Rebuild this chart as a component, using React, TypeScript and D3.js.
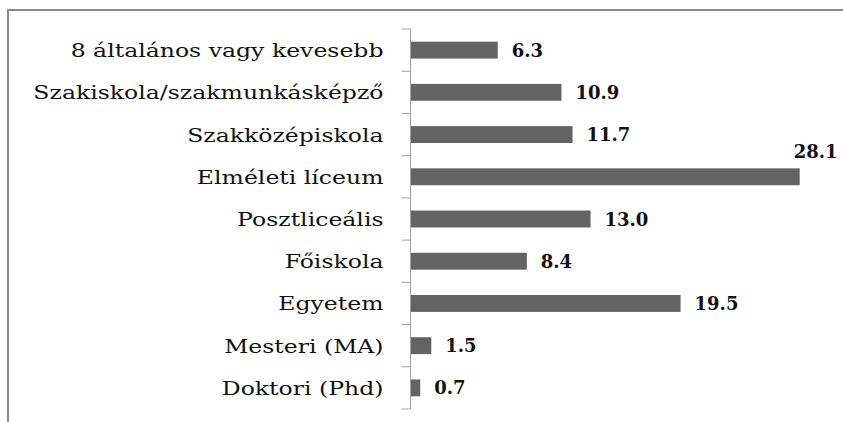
import React from 'react';
import * as d3 from 'd3';

const categories = [
  '8 általános vagy kevesebb',
  'Szakiskola/szakmunkásképző',
  'Szakközépiskola',
  'Elméleti líceum',
  'Posztliceális',
  'Főiskola',
  'Egyetem',
  'Mesteri (MA)',
  'Doktori (Phd)',
];
const values = [6.3, 10.9, 11.7, 28.1, 13.0, 8.4, 19.5, 1.5, 0.7];

const W = 843;
const H = 422;
const labelFont = 'DejaVu Serif, Liberation Serif, serif';

export default function App() {
  const ref = React.useRef<SVGSVGElement>(null);

  React.useEffect(() => {
    const svg = d3.select(ref.current);
    svg.selectAll('*').remove();

    const axisX = 410.5;
    const top = 29;
    const bottom = 409;

    const x = d3.scaleLinear().domain([0, 30]).range([axisX, 826]);
    const y = d3.scaleBand()
      .domain(categories)
      .range([top, bottom])
      .paddingInner(0.6)
      .paddingOuter(0.3);

    // outer frame (runs past the right and bottom edge)
    svg.append('rect')
      .attr('x', 8)
      .attr('y', 10)
      .attr('width', 900)
      .attr('height', 500)
      .attr('fill', 'none')
      .attr('stroke', '#888')
      .attr('stroke-width', 2);

    svg.selectAll('.bar')
      .data(values)
      .enter().append('rect')
      .attr('class', 'bar')
      .attr('x', x(0))
      .attr('y', (d, i) => y(categories[i]))
      .attr('width', d => x(d) - x(0))
      .attr('height', y.bandwidth())
      .attr('fill', '#636363');

    // category axis
    svg.append('line')
      .attr('x1', axisX).attr('x2', axisX)
      .attr('y1', top).attr('y2', bottom)
      .attr('stroke', '#a0a0a0');
    const step = y.step();
    d3.range(categories.length + 1).forEach(i => {
      svg.append('line')
        .attr('x1', axisX - 9).attr('x2', axisX)
        .attr('y1', top + i * step).attr('y2', top + i * step)
        .attr('stroke', '#a0a0a0');
    });

    categories.forEach(c => {
      const cy = y(c) + y.bandwidth() / 2;
      svg.append('text')
        .attr('transform', `translate(${axisX - 27},${cy + 7}) scale(1.24,1)`)
        .attr('text-anchor', 'end')
        .attr('font-family', labelFont)
        .attr('font-size', 19)
        .attr('fill', '#111')
        .text(c);
    });

    values.forEach((v, i) => {
      const cy = y(categories[i]) + y.bandwidth() / 2;
      const end = x(v);
      const above = end + 60 > W;
      svg.append('text')
        .attr('x', above ? end - 6 : end + 14)
        .attr('y', above ? y(categories[i]) - 10 : cy + 6.5)
        .attr('font-family', labelFont)
        .attr('font-weight', 'bold')
        .attr('font-size', 18)
        .attr('fill', '#111')
        .text(v.toFixed(1));
    });
  }, []);

  return (
    <svg
      ref={ref}
      width={W}
      height={H}
      style={{ position: 'absolute', left: 0, top: 0, background: '#fff' }}
    />
  );
}
